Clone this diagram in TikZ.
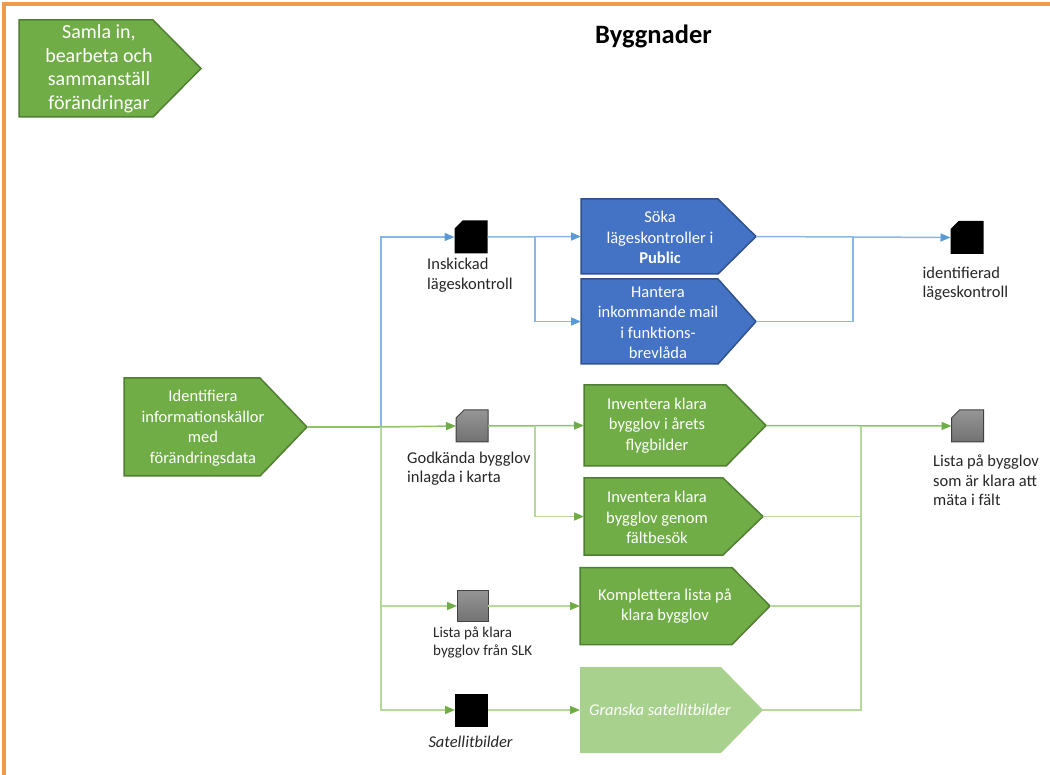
\documentclass[tikz,border=0pt]{standalone}
\usepackage{fontspec}
\setmainfont{Carlito}
\usetikzlibrary{arrows.meta,calc}

\definecolor{gfill}{HTML}{70AD47}
\definecolor{gdraw}{HTML}{507E32}
\definecolor{bfill}{HTML}{4472C4}
\definecolor{bdraw}{HTML}{2F528F}
\definecolor{lgfill}{HTML}{A9D18E}
\definecolor{bline}{HTML}{8AB8E6}
\definecolor{barrow}{HTML}{5B9BD5}
\definecolor{gline}{HTML}{8CC46A}
\definecolor{glight}{HTML}{B5D99C}
\definecolor{garrow}{HTML}{70AD47}
\definecolor{frameor}{HTML}{F09A4A}
\definecolor{labc}{HTML}{262626}
\definecolor{sqtop}{HTML}{959595}
\definecolor{sqbot}{HTML}{727272}
\definecolor{sqdraw}{HTML}{404040}

% pentagon body: name, style, tip extension
\newcommand\pentagon[3]{%
  \path[#2] (#1.north west) -- (#1.north east) -- ($(#1.east)+(#3,0)$) -- (#1.south east) -- (#1.south west) -- cycle;
  \coordinate (#1tip) at ($(#1.east)+(#3,0)$);}
% document square with cut top-left corner: name, style
\newcommand\docsq[2]{%
  \path[#2] (#1.south west) -- ($(#1.north west)+(0,8)$) -- ($(#1.north west)+(8,0)$) -- (#1.north east) -- (#1.south east) -- cycle;}

\begin{document}
\begin{tikzpicture}[x=1pt,y=-1pt,
  body/.style={inner sep=0pt,outer sep=0pt},
  gshape/.style={fill=gfill,draw=gdraw,line width=1.5pt,line join=miter},
  bshape/.style={fill=bfill,draw=bdraw,line width=1.5pt,line join=miter},
  lgshape/.style={fill=lgfill},
  boxtext/.style={text=white,align=center,inner sep=0pt,font=\fontsize{16.5}{20.5}\selectfont},
  lab/.style={anchor=north west,inner sep=0pt,align=left,text=labc,font=\fontsize{16.5}{19.5}\selectfont},
  blacksq/.style={fill=black},
  graysq/.style={top color=sqtop,bottom color=sqbot,draw=sqdraw,line width=1pt},
  bconn/.style={draw=bline,line width=1.5pt},
  barr/.style={bconn,-{Triangle[length=10pt,width=8pt,color=barrow]}},
  gconn/.style={draw=gline,line width=1.5pt},
  glconn/.style={draw=glight,line width=1.5pt},
  garr/.style={gconn,-{Triangle[length=10pt,width=8pt,color=garrow]}},
  glarr/.style={glconn,-{Triangle[length=10pt,width=8pt,color=garrow]}}
]
\useasboundingbox (0,0) rectangle (1050,775);

% frame
\draw[frameor,line width=4pt] (4,777) -- (4,4) -- (1052,4);

% title
\node[inner sep=0pt,font=\fontsize{26.5}{30}\selectfont\bfseries] (title) at (653.5,36.3) {Byggnader};

% top-left pentagon
\node[body,minimum width=134pt,minimum height=97pt] (samla) at (86,68.5) {};
\pentagon{samla}{gshape}{48}
\node[boxtext,font=\fontsize{20}{23.5}\selectfont] (samlat) at (99,69) {Samla in,\\bearbeta och\\sammanställ\\förändringar};

% Identifiera
\node[body,minimum width=136pt,minimum height=98pt] (ident) at (192,427) {};
\pentagon{ident}{gshape}{47}
\node[boxtext] (identt) at (203,428) {Identifiera\\informationskällor\\med\\förändringsdata};

% blue boxes
\node[body,minimum width=137pt,minimum height=75pt] (soka) at (649.5,236.5) {};
\pentagon{soka}{bshape}{38}
\node[boxtext] (sokat) at (660,237.5) {Söka\\lägeskontroller i\\\textbf{Public}};

\node[body,minimum width=137pt,minimum height=85pt] (hant) at (649.5,321.5) {};
\pentagon{hant}{bshape}{38}
\node[boxtext] (hantt) at (658,323) {Hantera\\inkommande mail\\i funktions-\\brevlåda};

% green boxes
\node[body,minimum width=142pt,minimum height=81pt] (inv1) at (655,425.5) {};
\pentagon{inv1}{gshape}{40}
\node[boxtext] (inv1t) at (657,425.5) {Inventera klara\\bygglov i årets\\flygbilder};

\node[body,minimum width=139pt,minimum height=77pt] (inv2) at (653.5,516.5) {};
\pentagon{inv2}{gshape}{40}
\node[boxtext] (inv2t) at (657,517.5) {Inventera klara\\bygglov genom\\fältbesök};

\node[body,minimum width=152pt,minimum height=77pt] (komp) at (656,606) {};
\pentagon{komp}{gshape}{38}
\node[boxtext] (kompt) at (665,606) {Komplettera lista på\\klara bygglov};

\node[body,minimum width=141pt,minimum height=86pt] (gran) at (650.5,710) {};
\pentagon{gran}{lgshape}{42}
\node[boxtext] (grant) at (660,710) {\itshape Granska satellitbilder};

% data squares
\node[body,minimum size=33pt] (insk) at (471,237) {};
\docsq{insk}{blacksq}
\node[lab] (inskt) at (427,258) {Inskickad\\lägeskontroll};

\node[body,minimum size=33pt] (idlc) at (967,237.5) {};
\docsq{idlc}{blacksq}
\node[lab] (idlct) at (922.5,266.5) {identifierad\\lägeskontroll};

\node[body,minimum size=32pt] (godk) at (472,426) {};
\docsq{godk}{graysq}
\node[lab] (godkt) at (407,451.5) {Godkända bygglov\\inlagda i karta};

\node[body,minimum size=32pt] (lista) at (967.5,426) {};
\docsq{lista}{graysq}
\node[lab] (listat) at (933,455) {Lista på bygglov\\som är klara att\\mäta i fält};

\node[body,minimum size=31pt] (slk) at (472.5,606) {};
\path[graysq] (slk.south west) rectangle (slk.north east);
\node[lab,font=\fontsize{15}{17.5}\selectfont] (slkt) at (433,627) {Lista på klara\\bygglov från SLK};

\node[body,minimum size=33pt] (sat) at (471.5,710) {};
\path[blacksq] (sat.south west) rectangle (sat.north east);
\node[lab] (satt) at (428.3,735.5) {\itshape Satellitbilder};

% junction coordinates
\coordinate (jL) at ($(identtip)+(74,0)$);
\coordinate (jB) at ($(insk.east)!0.51!(soka.west)$);
\coordinate (jR) at (853,237);
\coordinate (jG) at (535,426);
\coordinate (jR2) at (861,426);

% connectors: left distribution
\draw[gconn] (identtip) -- (jL);
\draw[barr] (jL) |- (insk.west);
\draw[garr] (jL) -- (godk.west);
\draw[glarr] (jL) |- (slk.west);
\draw[glarr] (jL) |- (sat.west);

% blue flow
\draw[barr] (insk.east) -- (soka.west);
\draw[barr] (jB) |- (hant.west);
\draw[barr] (sokatip) -- (idlc.west);
\draw[bconn] (hanttip) -| (jR);

% green flow
\draw[garr] (godk.east) -- (inv1.west);
\draw[glarr] (jG) |- (inv2.west);
\draw[glarr] (slk.east) -- (komp.west);
\draw[glarr] (sat.east) -- (gran.west);
\draw[garr] (inv1tip) -- (lista.west);
\draw[glconn] (inv2tip) -| (jR2);
\draw[glconn] (komptip) -| (jR2);
\draw[glconn] (grantip) -| (jR2);
\end{tikzpicture}
\end{document}
